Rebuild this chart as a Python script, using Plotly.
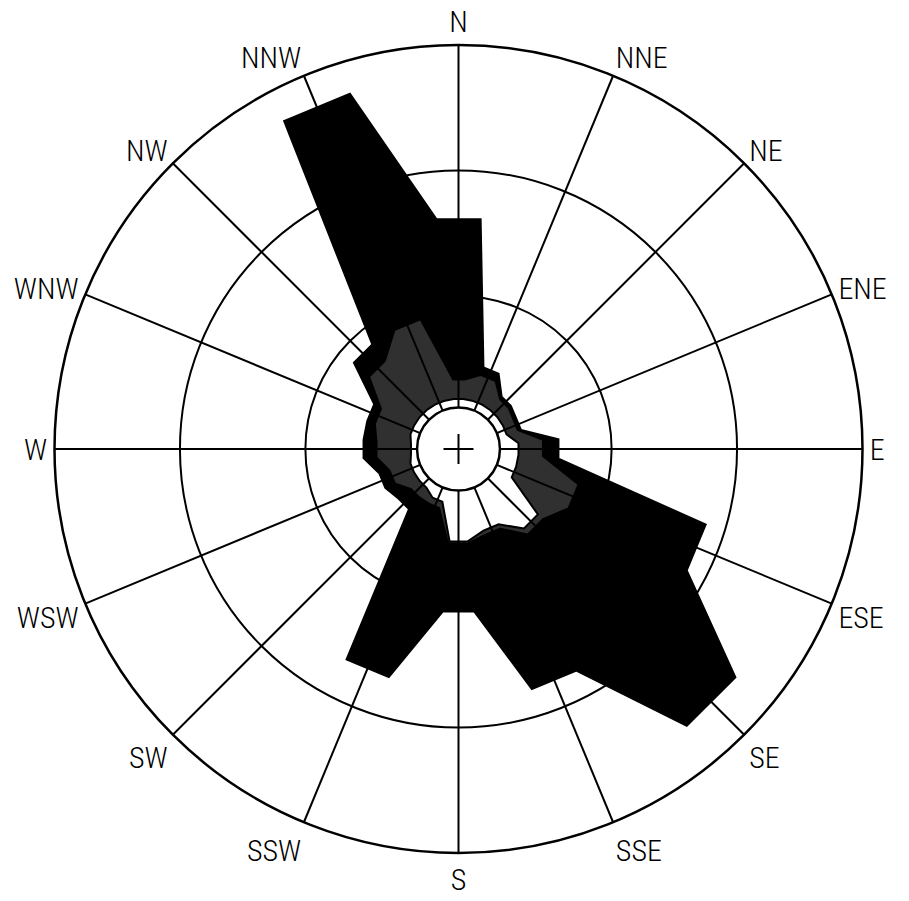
import plotly.graph_objects as go

# Wind directions, clockwise from north
directions = ["N", "NNE", "NE", "ENE", "E", "ESE", "SE", "SSE",
              "S", "SSW", "SW", "WSW", "W", "WNW", "NW", "NNW"]
angles = [i * 22.5 for i in range(16)]

# Frequency (%) per speed class, one value per direction
light = [0.9, 0.9, 0.9, 0.9, 1.3, 1.3, 3.0, 2.3, 2.6, 1.1, 0.9, 0.9, 0.8, 0.9, 0.9, 0.9]
moderate = [0.7, 1.0, 0.5, 0.4, 0.9, 2.5, 0.2, 0.1, 0.0, 0.2, 0.4, 0.8, 1.3, 1.4, 2.5, 3.3]
strong = [6.5, 0.4, 0.2, 0.2, 0.7, 5.4, 10.0, 6.5, 2.8, 7.1, 0.7, 0.5, 0.6, 0.4, 0.9, 9.5]

calm = 0.55          # radius of the calm disc (%)
ring_values = [5, 10, 15]
r_max = 15

HALF = 5.5           # half angular width of each petal (deg)


def cumulative(*series):
    out = []
    total = [0.0] * len(series[0])
    for s in series:
        total = [t + v for t, v in zip(total, s)]
        out.append(total)
    return out


lvl1, lvl2, lvl3 = cumulative(light, moderate, strong)


def outline(radii):
    th, rr = [], []
    for a, r in zip(angles, radii):
        th += [a - HALF, a + HALF]
        rr += [r, r]
    th.append(th[0])
    rr.append(rr[0])
    return th, rr


fig = go.Figure()

for radii, fill, edge in [(lvl3, "#000000", "#000000"),
                          (lvl2, "#303030", "#303030"),
                          (lvl1, "#ffffff", "#000000")]:
    th, rr = outline(radii)
    fig.add_trace(go.Scatterpolar(
        theta=th, r=rr, mode="lines", fill="toself",
        fillcolor=fill, line=dict(color=edge, width=2),
        hoverinfo="skip", showlegend=False))

# direction spokes drawn over the petals
sp_t, sp_r = [], []
for a in angles:
    sp_t += [a, a, None]
    sp_r += [calm, r_max, None]
fig.add_trace(go.Scatterpolar(
    theta=sp_t, r=sp_r, mode="lines",
    line=dict(color="#000000", width=2),
    hoverinfo="skip", showlegend=False))

W, H = 909, 901
cx, cy, R = 458.5, 449.0, 404.0
dom_x = [(cx - R) / W, (cx + R) / W]
dom_y = [(H - cy - R) / H, (H - cy + R) / H]

fig.update_layout(
    width=W, height=H,
    margin=dict(l=0, r=0, t=0, b=0),
    paper_bgcolor="white",
    polar=dict(
        domain=dict(x=dom_x, y=dom_y),
        bgcolor="white",
        hole=0.1026,
        radialaxis=dict(
            range=[calm, r_max], tickmode="array", tickvals=ring_values,
            showticklabels=False, ticks="", showline=False,
            showgrid=True, gridcolor="#000000", gridwidth=2,
        ),
        angularaxis=dict(
            direction="clockwise", rotation=90,
            tickmode="array", tickvals=angles, ticktext=directions,
            ticks="", showgrid=False,
            showline=True, linecolor="#000000", linewidth=2.5,
            tickfont=dict(family="Roboto Condensed, DejaVu Sans Condensed, sans-serif",
                          size=30, color="#000000", weight=300),
        ),
    ),
)

# cross marking the centre of the calm disc
mx = (dom_x[0] + dom_x[1]) / 2
my = (dom_y[0] + dom_y[1]) / 2
arm_x, arm_y = 15 / W, 15 / H
fig.add_shape(type="line", xref="paper", yref="paper",
              x0=mx - arm_x, x1=mx + arm_x, y0=my, y1=my,
              line=dict(color="#000000", width=2))
fig.add_shape(type="line", xref="paper", yref="paper",
              x0=mx, x1=mx, y0=my - arm_y, y1=my + arm_y,
              line=dict(color="#000000", width=2))

fig.write_html("out.html")
